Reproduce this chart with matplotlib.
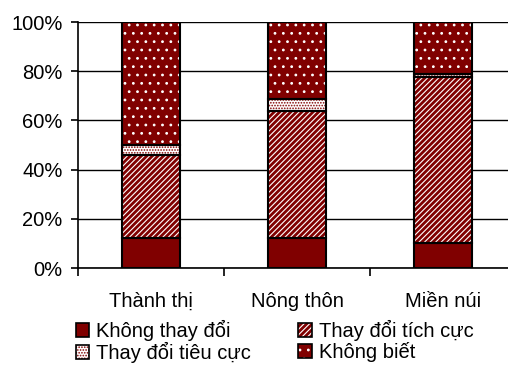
import matplotlib
matplotlib.use("Agg")
import matplotlib.pyplot as plt
from matplotlib.patches import Patch
from matplotlib.legend_handler import HandlerTuple
import numpy as np

plt.rcParams['font.family'] = ['Liberation Sans', 'DejaVu Sans']
plt.rcParams['hatch.linewidth'] = 0.8

# data (percent)
regions = ["Thành thị", "Nông thôn", "Miền núi"]
khong_thay_doi = [12, 12, 10]
tich_cuc = [34, 52, 67.5]
tieu_cuc = [4, 4.5, 1.5]
khong_biet = [50, 31.5, 21]
series_names = ["Không thay đổi", "Thay đổi tích cực", "Thay đổi tiêu cực", "Không biết"]

red = "#800000"
# (facecolor, hatch, hatch colour) per series
styles = [(red, None, red),
          (red, "//////", "white"),
          ("white", "......", red),
          (red, "..", "white")]

fig = plt.figure(figsize=(5.08, 3.68), dpi=100)
ax = fig.add_axes([78/508, 100/368, 438/508, 246/368])

x = np.arange(len(regions))
w = 0.4
bottom = np.zeros(len(regions))
handles = []
for vals, (fc, hatch, hc) in zip([khong_thay_doi, tich_cuc, tieu_cuc, khong_biet], styles):
    ax.bar(x, vals, w, bottom=bottom, color=fc, hatch=hatch, edgecolor=hc, linewidth=0, zorder=2)
    ax.bar(x, vals, w, bottom=bottom, fill=False, edgecolor="black", linewidth=1.5, zorder=3)
    bottom += np.array(vals)
    handles.append((Patch(facecolor=fc, hatch=hatch, edgecolor=hc, linewidth=0),
                    Patch(fill=False, edgecolor="black", linewidth=1.2)))

fs = 14.5
ax.set_xlim(-0.5, 2.5)
ax.set_ylim(0, 100)
ax.set_yticks(range(0, 101, 20))
ax.set_yticklabels([f"{v}%" for v in range(0, 101, 20)], fontsize=fs)
ax.yaxis.grid(True, color="black", linewidth=1.0, zorder=0)
ax.set_axisbelow(True)
ax.set_xticks(x)
ax.set_xticklabels(regions, fontsize=fs)
ax.set_xticks([-0.5, 0.5, 1.5, 2.5], minor=True)
ax.tick_params(axis="x", which="major", length=0, pad=17)
ax.tick_params(axis="x", which="minor", length=6, width=1.2, direction="out")
ax.tick_params(axis="y", length=5, width=1.2, pad=6)
for s in ["top", "right"]:
    ax.spines[s].set_visible(False)
ax.spines["left"].set_linewidth(1.2)
ax.spines["bottom"].set_linewidth(1.2)

order = [0, 2, 1, 3]
fig.legend([handles[i] for i in order], [series_names[i] for i in order],
           handler_map={tuple: HandlerTuple(ndivide=1)},
           ncol=2, loc="upper left", bbox_to_anchor=(66/508, 1 - 310/368),
           frameon=False, fontsize=fs, handlelength=0.65, handleheight=0.65,
           handletextpad=0.35, columnspacing=2.35, labelspacing=0.05, borderpad=0)

fig.savefig("out.png", dpi=100)
